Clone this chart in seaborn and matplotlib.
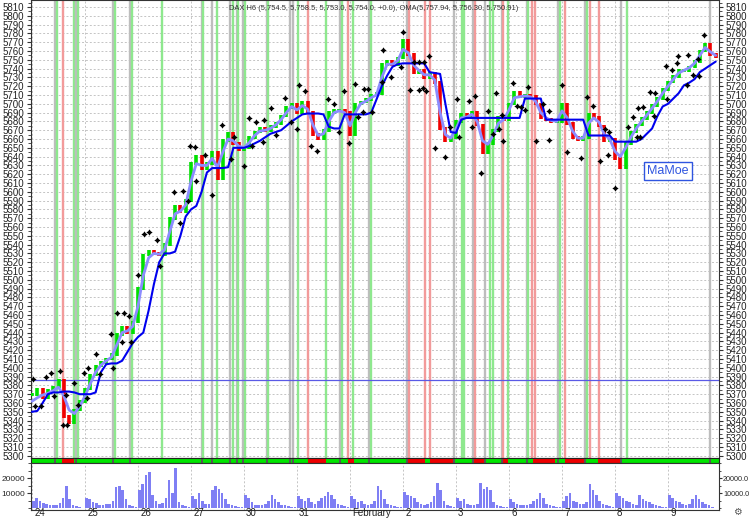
import numpy as np
import pandas as pd
import matplotlib
matplotlib.use("Agg")
import matplotlib.pyplot as plt
import matplotlib.transforms as mtransforms
from matplotlib.ticker import MultipleLocator, FuncFormatter
import seaborn as sns

sns.set_style("white")
plt.rcParams['font.family'] = ['Liberation Sans', 'DejaVu Sans']

# --- data ---
day_labels = ["24", "25", "26", "27", "30", "31", "February", "2", "3", "6", "7", "8", "9"]
bars_per_day = 10

close = [
    5370, 5375, 5366, 5374, 5378, 5386, 5345, 5338, 5352, 5362,   # 24
    5376, 5392, 5402, 5406, 5410, 5415, 5438, 5446, 5440, 5452,   # 25
    5490, 5528, 5532, 5530, 5528, 5540, 5570, 5583, 5578, 5590,   # 26
    5632, 5640, 5626, 5632, 5645, 5615, 5658, 5666, 5655, 5648,   # 27
    5650, 5662, 5668, 5672, 5670, 5674, 5678, 5686, 5696, 5700,   # 30
    5690, 5702, 5690, 5665, 5660, 5670, 5690, 5693, 5693, 5690,   # 31
    5665, 5700, 5702, 5705, 5710, 5712, 5745, 5748, 5744, 5752,   # Feb 1
    5772, 5756, 5735, 5738, 5730, 5735, 5724, 5672, 5658, 5662,   # 2
    5680, 5688, 5684, 5690, 5676, 5645, 5655, 5670, 5685, 5682,   # 3
    5700, 5713, 5708, 5710, 5708, 5700, 5684, 5682, 5680, 5680,   # 6
    5700, 5678, 5662, 5659, 5662, 5688, 5685, 5675, 5658, 5660,   # 7
    5638, 5628, 5655, 5668, 5676, 5683, 5690, 5698, 5706, 5716,   # 8
    5725, 5731, 5738, 5738, 5742, 5748, 5760, 5768, 5756, 5754,   # 9
]

oma_slow = [
    5350, 5351, 5360, 5370, 5372, 5372, 5373, 5373, 5372, 5370,
    5370, 5370, 5372, 5395, 5404, 5405, 5405, 5408, 5418, 5428,
    5435, 5440, 5465, 5495, 5520, 5530, 5530, 5532, 5550, 5572,
    5580, 5584, 5600, 5622, 5627, 5627, 5627, 5628, 5650, 5650,
    5650, 5652, 5655, 5658, 5662, 5666, 5668, 5670, 5675, 5680,
    5684, 5688, 5689, 5689, 5689, 5688, 5674, 5672, 5672, 5688,
    5688, 5688, 5688, 5688, 5690, 5705, 5720, 5732, 5742, 5745,
    5746, 5746, 5746, 5746, 5746, 5736, 5735, 5734, 5700, 5668,
    5667, 5682, 5684, 5684, 5684, 5684, 5684, 5684, 5684, 5684,
    5684, 5684, 5684, 5706, 5706, 5706, 5706, 5682, 5682, 5682,
    5682, 5682, 5682, 5682, 5682, 5664, 5664, 5664, 5664, 5664,
    5657, 5657, 5657, 5657, 5657, 5660, 5666, 5672, 5686, 5697,
    5700, 5706, 5712, 5721, 5724, 5728, 5736, 5740, 5744, 5748,
]

oma_fast = [
    5362, 5366, 5369, 5371, 5374, 5378, 5368, 5352, 5348, 5356,
    5368, 5382, 5395, 5403, 5408, 5412, 5426, 5440, 5442, 5447,
    5470, 5505, 5525, 5530, 5529, 5534, 5555, 5575, 5578, 5585,
    5612, 5632, 5630, 5630, 5638, 5628, 5645, 5660, 5658, 5652,
    5650, 5656, 5664, 5669, 5670, 5672, 5676, 5682, 5690, 5697,
    5693, 5698, 5694, 5676, 5664, 5666, 5680, 5690, 5692, 5690,
    5675, 5690, 5700, 5703, 5707, 5710, 5730, 5745, 5745, 5749,
    5762, 5758, 5744, 5738, 5733, 5733, 5727, 5690, 5665, 5661,
    5672, 5684, 5685, 5688, 5680, 5658, 5654, 5664, 5678, 5682,
    5693, 5707, 5708, 5709, 5708, 5703, 5690, 5684, 5681, 5680,
    5692, 5684, 5669, 5661, 5661, 5678, 5684, 5679, 5665, 5660,
    5646, 5640, 5650, 5662, 5672, 5680, 5687, 5695, 5703, 5712,
    5720, 5728, 5735, 5738, 5741, 5746, 5755, 5764, 5759, 5755,
]

# pivot markers (bar index, price)
marker_bar = [0.2, 0.6, 1.7, 2.6, 3.6, 4.2, 5.3, 6.4, 5.8, 6.6, 7.9, 8.7, 9.8, 10.4, 10.6,
              12.0, 12.8, 14.9, 15.3, 16.0, 17.4, 18.3, 17.0, 18.7, 20.0, 21.1, 22.1, 23.6,
              24.2, 26.8, 28.5, 27.9, 29.4, 30.9, 29.8, 30.8, 32.6, 34.0, 35.8, 37.5, 38.1,
              40.0, 40.9, 41.5, 42.3, 43.6, 43.8, 45.1, 46.0, 47.7, 48.9, 50.0, 50.4, 51.5,
              52.6, 53.8, 55.8, 57.0, 57.9, 58.9, 59.8, 60.9, 61.5, 62.5, 62.6, 63.4, 64.2,
              66.0, 66.2, 67.7, 69.6, 70.0, 71.3, 72.1, 73.0, 73.0, 73.8, 74.0, 74.3, 74.9,
              76.0, 77.9, 78.9, 80.2, 80.6, 82.5, 83.0, 83.6, 84.7, 86.0, 87.0, 87.5, 88.1,
              88.7, 88.9, 90.8, 91.5, 92.3, 93.0, 93.6, 95.1, 96.4, 97.5, 97.6, 100.0, 100.9,
              103.6, 104.7, 105.8, 107.2, 108.1, 108.7, 108.9, 110.0, 112.5, 113.4, 114.2,
              114.3, 114.7, 115.3, 116.6, 117.4, 117.5, 119.6, 119.8, 120.8, 121.7, 121.9,
              123.6, 123.8, 124.7, 125.7, 125.8, 126.8]
marker_price = [5387, 5357, 5357, 5390, 5394, 5368, 5396, 5369, 5335, 5335, 5383, 5358, 5394, 5366, 5400,
                5416, 5393, 5438, 5400, 5462, 5462, 5459, 5429, 5429, 5505, 5552, 5554, 5545,
                5516, 5600, 5601, 5565, 5590, 5612, 5652, 5651, 5642, 5596, 5676, 5637, 5662,
                5629, 5684, 5652, 5679, 5657, 5682, 5695, 5665, 5707, 5679, 5671, 5721, 5715,
                5652, 5646, 5705, 5700, 5668, 5715, 5655, 5723, 5685, 5691, 5717, 5717, 5691,
                5725, 5761, 5730, 5742, 5782, 5716, 5748, 5748, 5716, 5718, 5748, 5715, 5754,
                5650, 5640, 5674, 5705, 5662, 5703, 5674, 5709, 5621, 5692, 5666, 5712, 5671,
                5687, 5658, 5724, 5698, 5696, 5693, 5719, 5658, 5700, 5692, 5659, 5721, 5645,
                5638, 5708, 5697, 5635, 5671, 5642, 5668, 5604, 5674, 5685, 5662,
                5695, 5662, 5696, 5713, 5686, 5712, 5743, 5705, 5738, 5746, 5754,
                5721, 5755, 5733, 5751, 5732, 5778]

# volume, 16 slots per session
vol_d24 = [5000, 7000, 5000, 3500, 3000, 2000, 2500, 2500, 3500, 7000, 15000, 6000, 2000, 1500, 1000, 500]
vol_d25 = [7000, 6000, 4000, 3500, 2500, 2500, 3000, 3000, 5000, 14000, 15000, 12000, 6000, 2000, 1500, 1000]
vol_d26 = [12000, 16000, 22000, 24000, 9000, 5000, 3000, 3500, 7000, 19000, 10000, 27000, 4000, 2000, 1500, 1000]
vol_d27 = [8000, 6000, 10000, 5000, 3000, 3000, 12000, 15000, 13000, 10000, 6000, 3000, 2000, 1500, 1000, 800]
vol_d30 = [8700, 7000, 4000, 2500, 2000, 2000, 3000, 5000, 9000, 6000, 4000, 2500, 2000, 1500, 1000, 800]
vol_d31 = [8000, 6000, 5000, 7000, 4000, 3000, 5000, 7000, 8000, 11000, 9000, 6000, 3000, 2000, 1500, 1000]
vol_f01 = [8000, 6000, 4000, 5000, 3000, 2500, 3000, 5000, 15000, 12000, 6000, 3000, 2000, 1500, 1000, 800]
vol_f02 = [11000, 9000, 8000, 7000, 4000, 3000, 2500, 3000, 4000, 8000, 17000, 12000, 5000, 2000, 1500, 1000]
vol_f03 = [7000, 5000, 6000, 3000, 2500, 2000, 3000, 17000, 13000, 14000, 12000, 4000, 2000, 1500, 1000, 800]
vol_f06 = [6000, 4500, 3000, 2000, 2500, 2000, 3000, 5000, 6000, 10000, 7000, 3000, 2000, 1500, 1000, 800]
vol_f07 = [5000, 8000, 10000, 5000, 4000, 3000, 3000, 4000, 16000, 12000, 9000, 5000, 3000, 2000, 1500, 800]
vol_f08 = [10000, 8000, 7000, 5000, 4000, 3000, 2500, 9000, 6000, 5000, 4000, 3000, 2000, 1500, 1000, 800]
vol_f09 = [9000, 7000, 5000, 4000, 3000, 2500, 3000, 6000, 9000, 6000, 4000, 3000, 2000, 1000]
volume_days = [vol_d24, vol_d25, vol_d26, vol_d27, vol_d30, vol_d31, vol_f01,
               vol_f02, vol_f03, vol_f06, vol_f07, vol_f08, vol_f09]

# signal lines (session units) and kind: g=long, r=short, k=flat
signal_day = [0.43, 0.47, 0.58, 0.80, 0.83, 0.87, 1.53, 1.57, 1.85, 1.89, 2.45, 3.21, 3.23,
              3.40, 3.49, 3.74, 3.79, 3.87, 3.89, 3.98, 4.02, 4.43, 4.45, 4.87, 4.92, 5.02,
              5.21, 5.55, 5.81, 5.85, 5.96, 6.06, 6.36, 6.40, 7.08, 7.11, 7.42, 7.51, 7.96,
              8.11, 8.15, 8.32, 8.36, 8.55, 8.64, 8.70, 8.87, 8.89, 8.98, 9.34, 9.36, 9.43,
              9.49, 9.92, 9.96, 10.06, 10.43, 10.47, 10.53, 10.70, 11.11, 11.23, 12.79]
signal_kind = list("kgrgkgkgkggkgkgkgkgkgkgkkgrgkgrgkgkrrrkggkrkggkrgkgrrkgrkgrrkgk")

short_start = [0.57, 5.21, 5.96, 7.09, 7.51, 8.32, 8.87, 9.45, 10.06, 10.68]
short_end = [0.79, 5.55, 6.08, 7.42, 7.96, 8.55, 8.98, 9.87, 10.43, 11.11]

prev_level = 5386.5
header = ("DAX H6 (5,754.5, 5,758.5, 5,753.0, 5,754.0, +0.0), "
          "OMA(5,757.94, 5,756.30, 5,750.91)")

# --- frame ---
t = np.arange(len(close)) / bars_per_day
df = pd.DataFrame({'t': t, 'close': close, 'slow': oma_slow, 'fast': oma_fast})
df['prev'] = df['close'].shift(1).fillna(df['close'].iloc[0])
df['up'] = df['close'] >= df['prev']

W, H = 750, 518
fig = plt.figure(figsize=(W / 100, H / 100), dpi=100)
x0, x1 = 31, 719
ax = fig.add_axes([x0 / W, 1 - 458 / H, (x1 - x0) / W, 458 / H])
ax_strip = fig.add_axes([x0 / W, 1 - 463 / H, (x1 - x0) / W, 5 / H], sharex=ax)
ax_vol = fig.add_axes([x0 / W, 1 - 510 / H, (x1 - x0) / W, 47 / H], sharex=ax)

xlim = ((x0 - 32) / 53, (x1 - 32) / 53)
ax.set_xlim(*xlim)
ax.set_ylim(5297.5, 5818)

sig_colors = {'g': '#8ee88e', 'r': '#f29a9a', 'k': '#bdbdbd'}
for d, k in zip(signal_day, signal_kind):
    ax.axvline(d, color=sig_colors[k], lw=1.7, zorder=1)

ax.set_xticks(range(len(day_labels)))
ax.yaxis.set_major_locator(MultipleLocator(10))
ax.yaxis.set_minor_locator(MultipleLocator(5))
ax.grid(True, which='major', ls=(0, (2, 2)), color='#c4c4c4', lw=0.7)
ax.set_axisbelow(True)
ax.axhline(prev_level, color='#5a5ae6', lw=0.9, zorder=2)

# price bars
lo = np.minimum(df['prev'], df['close']) - 1.5
hi = np.maximum(df['prev'], df['close']) + 1.5
up = df['up'].values
ax.vlines(df['t'][up], lo[up], hi[up], color='#00e000', lw=2.6, zorder=3)
ax.vlines(df['t'][~up], lo[~up], hi[~up], color='#f00000', lw=2.6, zorder=3)

sns.lineplot(data=df, x='t', y='fast', ax=ax, color='#8c8cff', lw=2, zorder=4)
sns.lineplot(data=df, x='t', y='slow', ax=ax, color='#0000ee', lw=1.5, zorder=5)
sns.scatterplot(x=np.array(marker_bar) / bars_per_day, y=marker_price, ax=ax,
                marker=(4, 1, 0), s=13, color='black', edgecolor='black',
                linewidth=0.6, zorder=6)

ax.set_xlabel('')
ax.set_ylabel('')
ax.tick_params(axis='x', bottom=False, labelbottom=False)
ax.tick_params(axis='y', which='both', left=True, right=True,
               labelleft=True, labelright=True, labelsize=7, pad=2,
               color='#333333', labelcolor='#222222')
ax.tick_params(axis='y', which='major', length=3)
ax.tick_params(axis='y', which='minor', length=2)
for s in ax.spines.values():
    s.set_linewidth(0.8)
    s.set_color('#333333')

ax.text(0.926, 0.627, 'MaMoe', transform=ax.transAxes, color='#2f55e0',
        fontsize=9, ha='center', va='center',
        bbox=dict(boxstyle='square,pad=0.25', fc='white', ec='#2f55e0', lw=1))
fig.text(374 / W, 1 - 8 / H, header, fontsize=5.4, color='#333333',
         ha='center', va='center')

# long / short strip
ax_strip.set_facecolor('#00e600')
ax_strip.set_ylim(0, 1)
for a, b in zip(short_start, short_end):
    ax_strip.axvspan(a, b, color='#ee0000', lw=0)
for d, k in zip(signal_day, signal_kind):
    if k == 'k':
        ax_strip.axvspan(d - 0.02, d + 0.02, color='#555555', lw=0)
ax_strip.tick_params(left=False, bottom=False, labelleft=False, labelbottom=False)
for s in ax_strip.spines.values():
    s.set_linewidth(0.8)
    s.set_color('#222222')

# volume panel
n_slots = 16
vol_t = np.concatenate([d + np.arange(len(v)) / n_slots for d, v in enumerate(volume_days)])
vol = np.concatenate(volume_days)
ax_vol.bar(vol_t, vol, width=0.8 / n_slots, align='edge', color='#7f7ff4', lw=0)
ax_vol.set_ylim(-1100, 30200)
ax_vol.set_yticks([10000, 20000])
ax_vol.yaxis.set_minor_locator(MultipleLocator(5000))
ax_vol.yaxis.set_major_formatter(FuncFormatter(lambda v, p: f"{v:.0f}"))
ax_vol.tick_params(axis='y', which='both', labelsize=6, pad=1.5, color='#333333')
ax_vol.tick_params(axis='y', which='major', length=3)
ax_vol.tick_params(axis='y', which='minor', length=2)
ax_vol.set_xticks(range(len(day_labels)))
ax_vol.set_xticklabels([])
ax_vol.tick_params(axis='x', length=8, color='#444444', width=0.8)
ax_vol.grid(True, axis='x', ls=(0, (2, 2)), color='#c4c4c4', lw=0.7)
ax_vol.set_axisbelow(True)
for s in ax_vol.spines.values():
    s.set_linewidth(0.8)
    s.set_color('#333333')

ax_vol2 = ax_vol.twinx()
ax_vol2.set_ylim(-1100, 30200)
ax_vol2.set_yticks([10000, 20000])
ax_vol2.yaxis.set_minor_locator(MultipleLocator(5000))
ax_vol2.yaxis.set_major_formatter(FuncFormatter(lambda v, p: f"{v:.1f}"))
ax_vol2.tick_params(axis='y', which='both', labelsize=5.2, pad=1, color='#333333')
ax_vol2.tick_params(axis='y', which='major', length=2)
ax_vol2.tick_params(axis='y', which='minor', length=1.5)
for s in ax_vol2.spines.values():
    s.set_visible(False)

trans = mtransforms.blended_transform_factory(ax_vol.transData, ax_vol.transAxes)
for d, lab in enumerate(day_labels):
    ax_vol.text(d + 0.04, -0.06, lab, transform=trans, fontsize=7,
                ha='left', va='center', color='#222222')

fig.text(737 / W, 1 - 512 / H, '\u2699', fontsize=7, color='#555555',
         ha='center', va='center', family='DejaVu Sans')

fig.savefig('out.png', dpi=100)
